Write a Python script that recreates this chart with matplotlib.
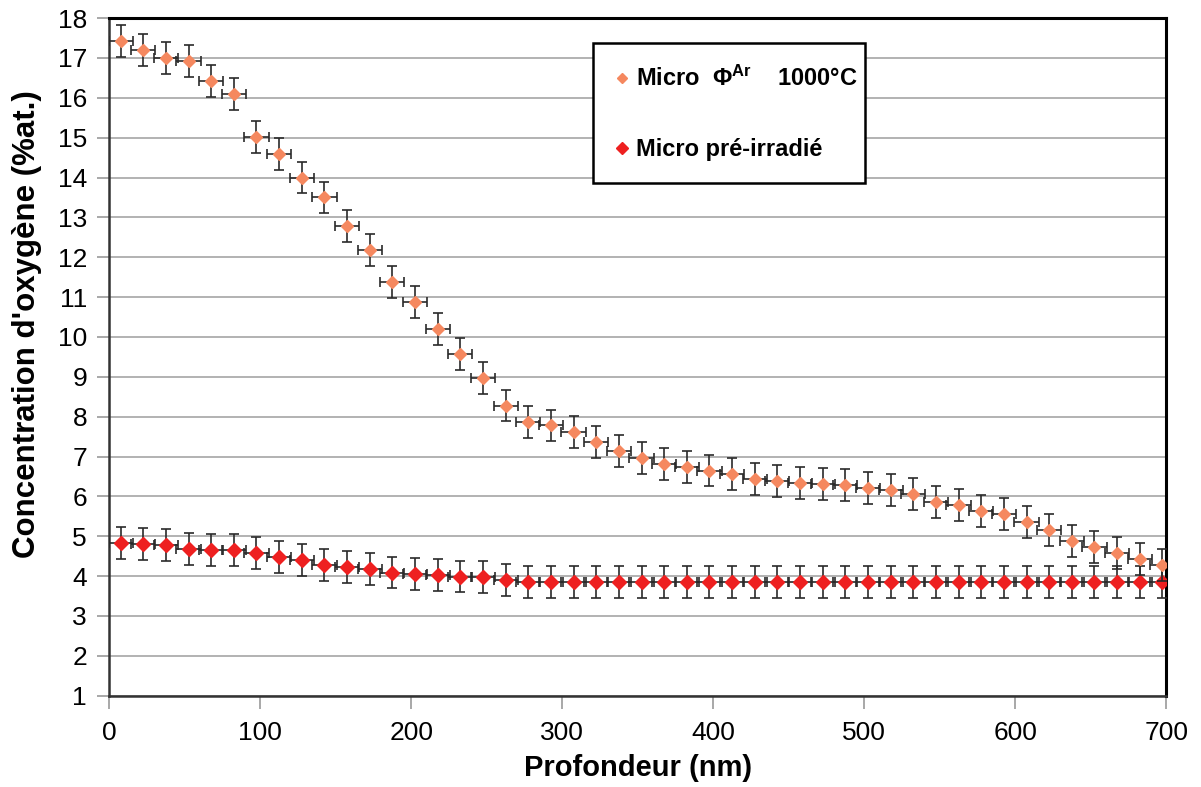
"""
Oxygen concentration vs depth: Micro Phi^Ar 1000°C vs pre-irradiated Micro.
Saves out.png (1201x787).
"""

import matplotlib

matplotlib.use("Agg")
import matplotlib.pyplot as plt
from matplotlib.lines import Line2D

plt.rcParams["font.family"] = ["Liberation Sans", "DejaVu Sans"]
plt.rcParams["mathtext.fontset"] = "custom"
plt.rcParams["mathtext.rm"] = "Liberation Sans:bold"
plt.rcParams["mathtext.it"] = "Liberation Sans:bold"
plt.rcParams["mathtext.bf"] = "Liberation Sans:bold"

# depth of each measurement (nm), 15 nm steps
depth = [7.5 + 15 * i for i in range(47)]

micro_ar = [
    17.42, 17.21, 17.01, 16.92, 16.42, 16.10, 15.01, 14.60, 14.00, 13.50,
    12.78, 12.19, 11.39, 10.87, 10.19, 9.58, 8.96, 8.28, 7.87, 7.78,
    7.62, 7.36, 7.15, 6.96, 6.81, 6.74, 6.65, 6.56, 6.43, 6.39,
    6.34, 6.31, 6.28, 6.22, 6.15, 6.06, 5.86, 5.78, 5.64, 5.55,
    5.36, 5.15, 4.88, 4.74, 4.58, 4.42, 4.28,
]
micro_pre = [
    4.84, 4.81, 4.78, 4.68, 4.65, 4.65, 4.58, 4.49, 4.40, 4.27,
    4.24, 4.18, 4.09, 4.06, 4.02, 3.99, 3.97, 3.90, 3.85, 3.85,
    3.85, 3.85, 3.85, 3.85, 3.85, 3.85, 3.85, 3.85, 3.85, 3.85,
    3.85, 3.85, 3.85, 3.85, 3.85, 3.85, 3.85, 3.85, 3.85, 3.85,
    3.85, 3.85, 3.85, 3.85, 3.85, 3.85, 3.85,
]
y_err = 0.4  # %at.
x_err = 8  # nm

ORANGE = "#f5885f"
RED = "#ee2020"
BAR = "#2a2a2a"
GRID = "#a6a6a6"

fig = plt.figure(figsize=(12.01, 7.87), dpi=100)
ax = fig.add_axes([0.091, 0.116, 0.880, 0.861])

err_kw = dict(ecolor=BAR, elinewidth=1.2, capsize=3.5, capthick=1.2, linestyle="none")
ax.errorbar(depth, micro_pre, yerr=y_err, xerr=x_err, marker="D", markersize=6.8,
            color=RED, mec=RED, zorder=3, **err_kw)
ax.errorbar(depth, micro_ar, yerr=y_err, xerr=x_err, marker="D", markersize=6,
            color=ORANGE, mec=ORANGE, zorder=4, **err_kw)

ax.set_xlim(0, 700)
ax.set_ylim(1, 18)
ax.set_xticks(range(0, 701, 100))
ax.set_yticks(range(1, 19))
ax.tick_params(axis="both", direction="out", length=9, width=1.2, color="#9a9a9a",
               labelsize=19)
ax.tick_params(axis="x", pad=9)
ax.tick_params(axis="y", pad=7)
ax.grid(axis="y", color=GRID, linewidth=1.2, zorder=0)
ax.set_axisbelow(True)
for side in ("left", "bottom"):
    ax.spines[side].set_color("#333333")
    ax.spines[side].set_linewidth(1.8)
for side in ("top", "right"):
    ax.spines[side].set_color("black")
    ax.spines[side].set_linewidth(2.2)

ax.set_xlabel("Profondeur (nm)", fontsize=21, fontweight="bold")
ax.set_ylabel("Concentration d'oxygène (%at.)", fontsize=22.5, fontweight="bold")
ax.xaxis.set_label_coords(0.5, -0.086)
ax.yaxis.set_label_coords(-0.064, 0.549)

handles = [
    Line2D([], [], marker="D", color=ORANGE, linestyle="none", markersize=5),
    Line2D([], [], marker="D", color=RED, linestyle="none", markersize=6),
]
labels = [r"Micro  $\Phi^{Ar}$    1000°C", "Micro pré-irradié"]
leg = ax.legend(handles, labels, loc="upper left", bbox_to_anchor=(0.458, 0.963, 0.257, 0.0),
                mode="expand", borderaxespad=0,
                prop={"family": "Liberation Sans", "weight": "bold", "size": 17},
                labelspacing=2.0, handlelength=0.5, handletextpad=0.35, borderpad=0.95,
                fancybox=False, framealpha=1, edgecolor="black")
leg.get_frame().set_linewidth(1.8)

fig.savefig("out.png", dpi=100)
